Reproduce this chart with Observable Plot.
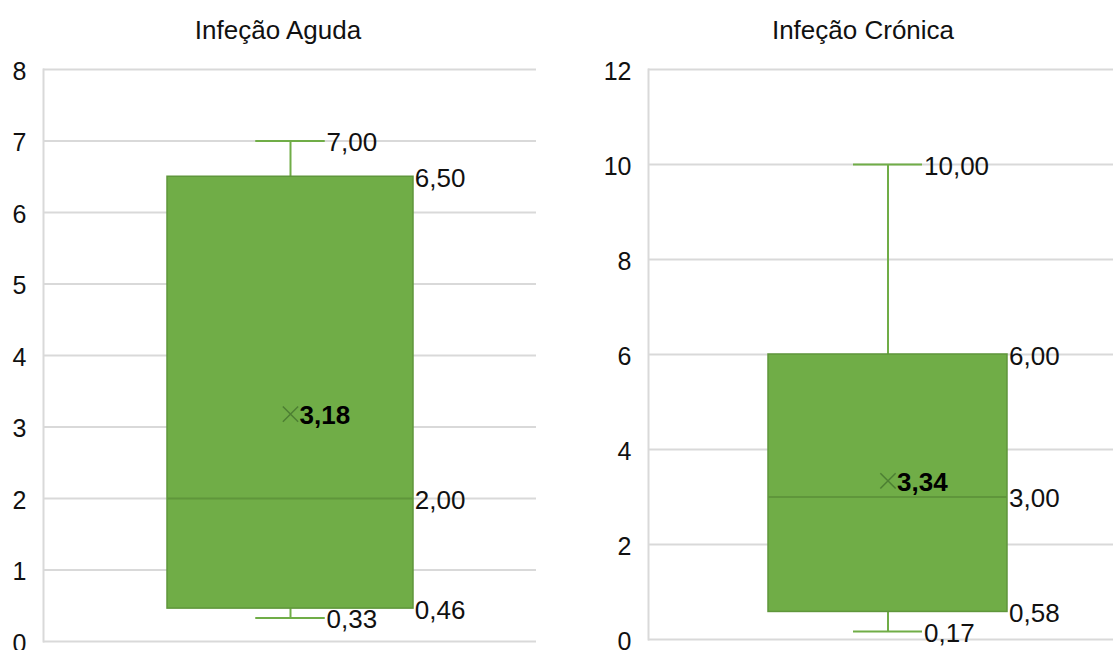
<!DOCTYPE html>
<html lang="pt">
<head>
<meta charset="utf-8">
<script src="https://cdn.jsdelivr.net/npm/d3@7"></script>
<script src="https://cdn.jsdelivr.net/npm/@observablehq/plot@0.6"></script>
<style>
  html, body { margin: 0; padding: 0; background: #fff; overflow: hidden; }
  #graficos { position: relative; width: 1113px; height: 650px; overflow: hidden; display: flex; }
  .painel { position: relative; flex: none; }
  .titulo {
    position: absolute; left: 0; right: 0; top: 16px; text-align: center;
    font: 26px "Liberation Sans", Arial, sans-serif; line-height: 28px; color: #111;
  }
</style>
</head>
<body>
<div id="graficos"></div>
<script>
// Resumo estatístico por tipo de infeção
const grupos  = ["Infeção Aguda", "Infeção Crónica"];
const minimo  = [0.33, 0.17];
const q1      = [0.46, 0.58];
const mediana = [2.00, 3.00];
const q3      = [6.50, 6.00];
const maximo  = [7.00, 10.00];
const media   = [3.18, 3.34];
const yMaximo = [8, 12];
const yTicks  = [[0, 1, 2, 3, 4, 5, 6, 7, 8], [0, 2, 4, 6, 8, 10, 12]];

// Aspeto de cada painel
const layout = [
  {width: 556, marginLeft: 43, marginRight: 20, marginTop: 69, marginBottom: 9},
  {width: 614, marginLeft: 92, marginRight: 42, marginTop: 69, marginBottom: 11}
];

const verde = "#70ad47";
const verdeEscuro = "#5f963b";
const grelha = "#d9d9d9";
const fonte = '"Liberation Sans", Arial, sans-serif';
const virgula = v => d3.format(".2f")(v).replace(".", ",");
const PAD = 1 / 3; // a caixa ocupa metade da largura útil
const LARG_TAMPA = 70;
const TAM_ROTULO = 26;
const TAM_EIXO = 25;

const contentor = document.getElementById("graficos");

grupos.forEach((g, i) => {
  const L = layout[i];
  const linha = [{
    grupo: g, min: minimo[i], q1: q1[i], med: mediana[i],
    q3: q3[i], max: maximo[i], media: media[i]
  }];
  const larguraUtil = L.width - L.marginLeft - L.marginRight;
  const larguraCaixa = larguraUtil / (1 + PAD) * (1 - PAD);
  const insetTampa = (larguraCaixa - LARG_TAMPA) / 2;

  const rotulo = (campo, dx) => Plot.text(linha, {
    x: "grupo", y: campo, text: d => virgula(d[campo]),
    dx, dy: 2, textAnchor: "start", fontSize: TAM_ROTULO, fill: "#111"
  });

  const plot = Plot.plot({
    width: L.width,
    height: 650,
    marginLeft: L.marginLeft,
    marginRight: L.marginRight,
    marginTop: L.marginTop,
    marginBottom: L.marginBottom,
    style: {fontFamily: fonte, fontSize: TAM_EIXO + "px", background: "transparent", overflow: "visible"},
    x: {domain: [g], padding: PAD, axis: null},
    y: {domain: [0, yMaximo[i]], ticks: yTicks[i]},
    marks: [
      Plot.ruleY(yTicks[i], {stroke: grelha, strokeWidth: 2}),
      Plot.frame({anchor: "left", stroke: grelha, strokeWidth: 2}),
      Plot.axisY({
        ticks: yTicks[i], tickSize: 0, tickPadding: 17, fontSize: TAM_EIXO, dy: 2,
        fill: "#111", label: null, tickFormat: d => String(d)
      }),
      // bigodes
      Plot.ruleX(linha, {x: "grupo", y1: "q3", y2: "max", stroke: verde, strokeWidth: 2}),
      Plot.ruleX(linha, {x: "grupo", y1: "min", y2: "q1", stroke: verde, strokeWidth: 2}),
      Plot.tickY(linha, {x: "grupo", y: "max", stroke: verde, strokeWidth: 2, inset: insetTampa}),
      Plot.tickY(linha, {x: "grupo", y: "min", stroke: verde, strokeWidth: 2, inset: insetTampa}),
      // caixa interquartil
      Plot.barY(linha, {x: "grupo", y1: "q1", y2: "q3", fill: verde, stroke: verdeEscuro, strokeWidth: 1.5}),
      Plot.tickY(linha, {x: "grupo", y: "med", stroke: verdeEscuro, strokeWidth: 2}),
      // média
      Plot.dot(linha, {x: "grupo", y: "media", symbol: "times", r: 7, stroke: "#4d7f33", strokeWidth: 1.5}),
      Plot.text(linha, {
        x: "grupo", y: "media", text: d => virgula(d.media),
        dx: 9, dy: 2, textAnchor: "start", fontSize: TAM_ROTULO, fontWeight: "bold", fill: "#000"
      }),
      // valores
      rotulo("max", LARG_TAMPA / 2 + 1),
      rotulo("min", LARG_TAMPA / 2 + 1),
      rotulo("q3", larguraCaixa / 2 + 1),
      rotulo("med", larguraCaixa / 2 + 1),
      rotulo("q1", larguraCaixa / 2 + 1)
    ]
  });

  const painel = document.createElement("div");
  painel.className = "painel";
  painel.style.width = L.width + "px";
  painel.appendChild(plot);
  const titulo = document.createElement("div");
  titulo.className = "titulo";
  titulo.textContent = g;
  painel.appendChild(titulo);
  contentor.appendChild(painel);
});
</script>
</body>
</html>
